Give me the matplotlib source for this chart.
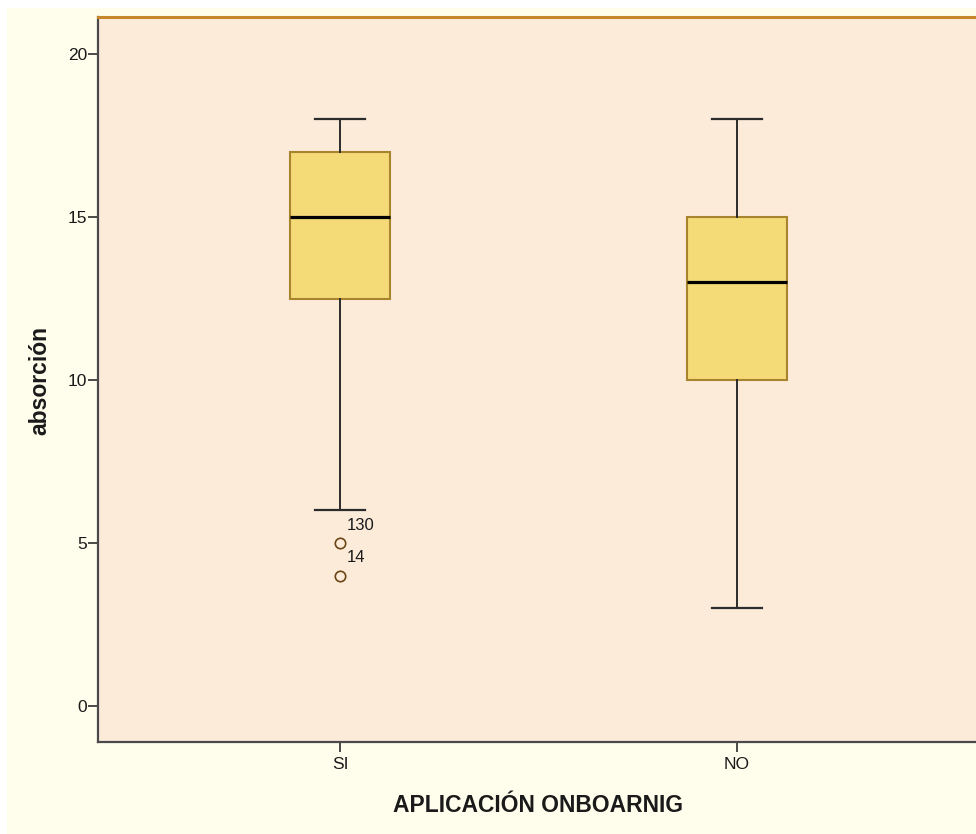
import matplotlib
matplotlib.use("Agg")
import matplotlib.pyplot as plt
from matplotlib.patches import Rectangle

plt.rcParams['font.family'] = ['Liberation Sans', 'DejaVu Sans']

# Five-number summaries per group
categories = ['SI', 'NO']
whisker_low = [6, 3]
q1 = [12.5, 10]
median = [15, 13]
q3 = [17, 15]
whisker_high = [18, 18]
outlier_values = [[5, 4], []]
outlier_ids = [['130', '14'], []]
y_ticks = [0, 5, 10, 15, 20]

fig = plt.figure(figsize=(9.76, 8.34), dpi=100)
fig.patch.set_facecolor('white')
fig.add_artist(Rectangle((7 / 976, 0), 1, 1 - 8 / 834, transform=fig.transFigure,
                         facecolor='#FFFDEB', edgecolor='none', zorder=-10))

ax = fig.add_axes([98 / 976, 92 / 834, 878 / 976, 725 / 834])
ax.set_facecolor('#FDEBDA')

positions = list(range(len(categories)))
stats = []
for i, cat in enumerate(categories):
    stats.append(dict(label=cat, whislo=whisker_low[i], q1=q1[i], med=median[i],
                      q3=q3[i], whishi=whisker_high[i], fliers=outlier_values[i]))

ax.bxp(stats, positions=positions, widths=0.252, patch_artist=True,
       boxprops=dict(facecolor='#F5DA78', edgecolor='#A8842E', linewidth=1.5),
       medianprops=dict(color='black', linewidth=2.3),
       whiskerprops=dict(color='#2b2b2b', linewidth=1.4),
       capprops=dict(color='#2b2b2b', linewidth=1.6),
       capwidths=0.126,
       flierprops=dict(marker='o', markersize=7.5, markerfacecolor='none',
                       markeredgecolor='#6B4513', markeredgewidth=1.2))

# Case labels next to the outliers
for i, (vals, ids) in enumerate(zip(outlier_values, outlier_ids)):
    for v, lab in zip(vals, ids):
        ax.annotate(lab, xy=(positions[i], v), xytext=(4.5, 9.5),
                    textcoords='offset points', ha='left', va='baseline',
                    fontsize=12, color='#1a1a1a')

ax.set_xlim(-242 / 397, 636 / 397)
ax.set_ylim(-36 / 32.6, 689 / 32.6)
ax.set_yticks(y_ticks)
ax.set_yticklabels([str(t) for t in y_ticks])
ax.set_xticks(positions)
ax.set_xticklabels(categories)

ax.tick_params(axis='y', length=7, width=1.2, pad=1, labelsize=12.5,
               color='#2b2b2b', labelcolor='#1a1a1a')
ax.tick_params(axis='x', length=7, width=1.2, pad=4, labelsize=12.5,
               color='#2b2b2b', labelcolor='#1a1a1a')

for side in ('left', 'bottom'):
    ax.spines[side].set_color('#4a4a4a')
    ax.spines[side].set_linewidth(1.6)
ax.spines['top'].set_color('#C8862A')
ax.spines['top'].set_linewidth(2.2)
ax.spines['right'].set_visible(False)

fig.text(40 / 976, (834 - 380) / 834, 'absorción', rotation=90, ha='center',
         va='center', fontsize=16.5, fontweight='bold', color='#1a1a1a')
fig.text(538 / 976, (834 - 812) / 834, 'APLICACIÓN ONBOARNIG', ha='center',
         va='baseline', fontsize=16.5, fontweight='bold', color='#1a1a1a')

fig.savefig('out.png', dpi=100)
